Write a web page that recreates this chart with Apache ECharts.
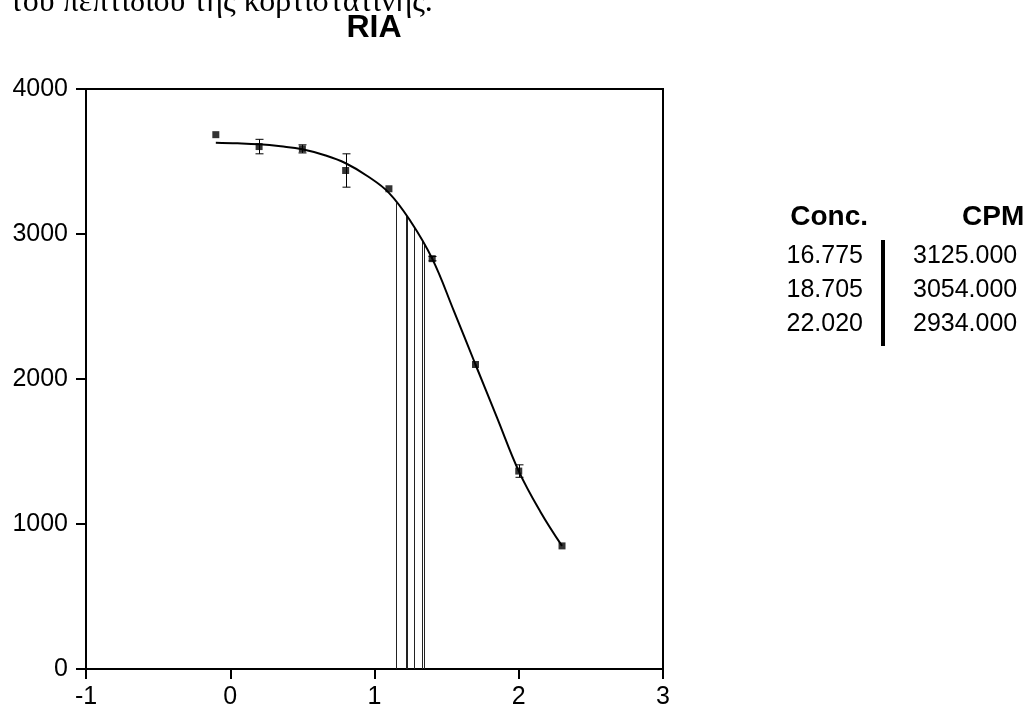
<!DOCTYPE html>
<html>
<head>
<meta charset="utf-8">
<title>RIA</title>
<script src="https://cdn.jsdelivr.net/npm/echarts@6/dist/echarts.min.js"></script>
<style>
  html, body { margin: 0; padding: 0; background: #fff; }
  #chart { width: 1028px; height: 710px; }
</style>
</head>
<body>
<div id="chart"></div>
<script>
// Axis ticks
const xTicks = { min: -1, max: 3, step: 1 };
const yTicks = { min: 0, max: 4000, step: 1000 };

// Standards: log concentration, mean CPM and error half-width
const stdLogConc = [-0.1, 0.2, 0.5, 0.8, 1.1, 1.4, 1.7, 2.0, 2.3];
const stdCpm     = [3685, 3603, 3587, 3438, 3312, 2830, 2100, 1365, 849];
const stdErr     = [0, 50, 28, 115, 0, 15, 0, 43, 0];

// Fitted standard curve
const curveLogConc = [-0.1, 0.05, 0.2, 0.35, 0.5, 0.65, 0.8, 0.95, 1.1, 1.25, 1.4, 1.55, 1.7, 1.85, 2.0, 2.15, 2.3];
const curveCpm     = [3630, 3626, 3619, 3605, 3585, 3545, 3488, 3400, 3284, 3088, 2830, 2470, 2100, 1732, 1365, 1085, 849];

// Unknown samples (table)
const sampleConc = ['16.775', '18.705', '22.020'];
const sampleCpm  = ['3125.000', '3054.000', '2934.000'];

// Additional read-off lines (log concentration, CPM)
const extraLogConc = [1.147, 1.216, 1.327];
const extraCpm     = [3213, 3135, 2956];

const chart = echarts.init(document.getElementById('chart'), null, { renderer: 'canvas' });

const dropLines = sampleConc.map((c, i) => [Math.log10(parseFloat(c)), parseFloat(sampleCpm[i])])
  .concat(extraLogConc.map((x, i) => [x, extraCpm[i]]));

const FONT = '"Liberation Sans", Arial, Helvetica, sans-serif';

// Results table at the right
const tableRowY = [256, 290, 324];
const tableGraphics = [
  { type: 'text', x: 868, y: 217, style: { text: 'Conc.', font: 'bold 28px ' + FONT, fill: '#000', textAlign: 'right', textVerticalAlign: 'middle' } },
  { type: 'text', x: 962, y: 217, style: { text: 'CPM', font: 'bold 28px ' + FONT, fill: '#000', textAlign: 'left', textVerticalAlign: 'middle' } },
  { type: 'rect', shape: { x: 881, y: 240, width: 4, height: 106 }, style: { fill: '#000' } }
];
sampleConc.forEach((c, i) => {
  tableGraphics.push({ type: 'text', x: 863, y: tableRowY[i], style: { text: c, font: '25px ' + FONT, fill: '#000', textAlign: 'right', textVerticalAlign: 'middle' } });
  tableGraphics.push({ type: 'text', x: 913, y: tableRowY[i], style: { text: sampleCpm[i], font: '25px ' + FONT, fill: '#000', textAlign: 'left', textVerticalAlign: 'middle' } });
});

chart.setOption({
  animation: false,
  backgroundColor: '#fff',
  grid: {
    left: 86, top: 89, right: 365, bottom: 40,
    show: true, borderColor: '#000', borderWidth: 2, backgroundColor: 'transparent'
  },
  xAxis: {
    type: 'value', min: xTicks.min, max: xTicks.max, interval: xTicks.step,
    axisLine: { show: true, onZero: false, lineStyle: { color: '#000', width: 2 } },
    axisTick: { show: true, inside: false, length: 10, lineStyle: { color: '#000', width: 2 } },
    splitLine: { show: false },
    axisLabel: { color: '#000', fontSize: 25, fontFamily: FONT, margin: 16, formatter: v => String(v) }
  },
  yAxis: {
    type: 'value', min: yTicks.min, max: yTicks.max, interval: yTicks.step,
    axisLine: { show: true, onZero: false, lineStyle: { color: '#000', width: 2 } },
    axisTick: { show: true, inside: false, length: 10, lineStyle: { color: '#000', width: 2 } },
    splitLine: { show: false },
    axisLabel: { color: '#000', fontSize: 25, fontFamily: FONT, margin: 18, formatter: v => String(v) }
  },
  graphic: [
    { type: 'text', x: 10, y: 3, silent: true,
      style: { text: 'του πεπτιδίου της κορτιστατίνης.', font: '32px "Liberation Serif", "DejaVu Serif", serif', fill: '#000', textAlign: 'left', textVerticalAlign: 'middle' } },
    { type: 'text', x: 374, y: 28,
      style: { text: 'RIA', font: 'bold 32px ' + FONT, fill: '#000', textAlign: 'center', textVerticalAlign: 'middle' } }
  ].concat(tableGraphics),
  series: [
    {
      type: 'custom',
      name: 'drop',
      z: 1,
      data: dropLines,
      renderItem: function (params, api) {
        const p0 = api.coord([api.value(0), 0]);
        const p1 = api.coord([api.value(0), api.value(1)]);
        const x = Math.round(p0[0]) + 0.5;
        return { type: 'line', shape: { x1: x, y1: p0[1], x2: x, y2: p1[1] }, style: { stroke: '#222', lineWidth: 1 } };
      }
    },
    {
      type: 'line',
      name: 'curve',
      z: 2,
      data: curveLogConc.map((x, i) => [x, curveCpm[i]]),
      smooth: 0.4,
      showSymbol: false,
      lineStyle: { color: '#000', width: 2 }
    },
    {
      type: 'custom',
      name: 'err',
      z: 3,
      data: stdLogConc.map((x, i) => [x, stdCpm[i], stdErr[i]]),
      renderItem: function (params, api) {
        const e = api.value(2);
        if (!e) return null;
        const x = api.value(0), y = api.value(1);
        const top = api.coord([x, y + e]);
        const bot = api.coord([x, y - e]);
        const cx = Math.round(top[0]) + 0.5;
        const w = 4;
        const st = { stroke: '#000', lineWidth: 1 };
        return {
          type: 'group',
          children: [
            { type: 'line', shape: { x1: cx, y1: top[1], x2: cx, y2: bot[1] }, style: st },
            { type: 'line', shape: { x1: cx - w, y1: top[1], x2: cx + w, y2: top[1] }, style: st },
            { type: 'line', shape: { x1: cx - w, y1: bot[1], x2: cx + w, y2: bot[1] }, style: st }
          ]
        };
      }
    },
    {
      type: 'scatter',
      name: 'std',
      z: 4,
      data: stdLogConc.map((x, i) => [x, stdCpm[i]]),
      symbol: 'rect',
      symbolSize: 7,
      itemStyle: { color: '#000' }
    }
  ]
});
</script>
</body>
</html>
